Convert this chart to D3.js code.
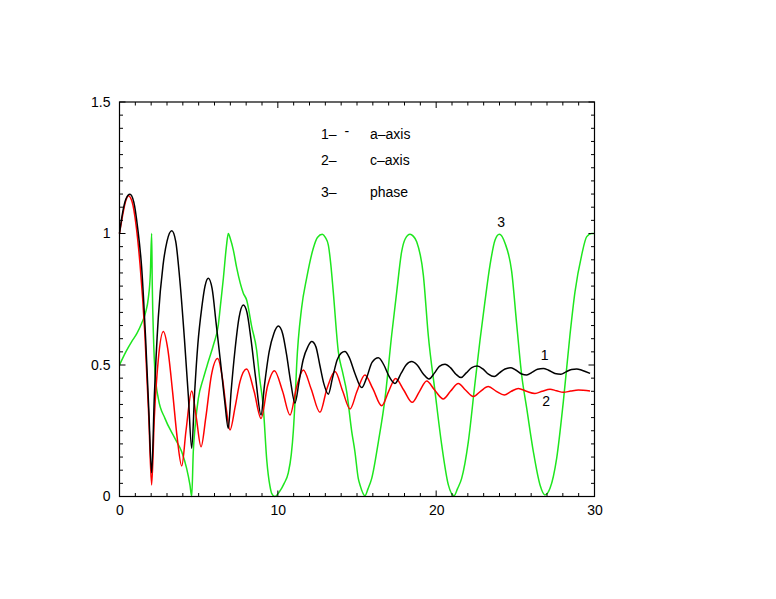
<!DOCTYPE html>
<html><head><meta charset="utf-8">
<script src="https://cdn.jsdelivr.net/npm/d3@7"></script>
<style>body{margin:0;background:#fff}svg{display:block}text{font-family:"Liberation Sans",Arial,sans-serif;font-size:14px;fill:#000}</style>
</head><body><svg id="c" width="776" height="599"></svg>
<script>
const xTicks=[0,10,20,30];
const yTicks=[0,0.5,1,1.5];
const yTickLabels=["0","0.5","1","1.5"];
const aAxis=[[0,1.0],[0.2,1.08],[0.4,1.13],[0.66,1.149],[0.9,1.12],[1.15,1.02],[1.4,0.87],[1.65,0.6],[1.85,0.33],[2.03,0.09],[2.2,0.38],[2.45,0.68],[2.75,0.88],[3.0,0.97],[3.3,1.01],[3.55,0.97],[3.8,0.83],[4.1,0.6],[4.35,0.38],[4.56,0.183],[4.75,0.4],[4.95,0.58],[5.2,0.72],[5.4,0.8],[5.61,0.83],[5.85,0.79],[6.1,0.66],[6.4,0.5],[6.65,0.36],[6.87,0.259],[7.05,0.4],[7.3,0.56],[7.55,0.68],[7.82,0.728],[8.05,0.7],[8.3,0.6],[8.6,0.45],[8.94,0.31],[9.15,0.42],[9.45,0.55],[9.75,0.62],[10.03,0.648],[10.3,0.62],[10.55,0.54],[10.8,0.44],[11.08,0.355],[11.35,0.44],[11.6,0.52],[11.9,0.57],[12.14,0.589],[12.4,0.57],[12.65,0.5],[12.9,0.43],[13.19,0.389],[13.45,0.45],[13.75,0.52],[14.0,0.545],[14.24,0.551],[14.5,0.53],[14.87,0.468],[15.3,0.414],[15.6,0.45],[15.95,0.51],[16.35,0.528],[16.7,0.5],[17.0,0.46],[17.4,0.43],[17.8,0.47],[18.1,0.5],[18.45,0.513],[18.8,0.5],[19.2,0.465],[19.55,0.447],[19.9,0.47],[20.2,0.495],[20.56,0.503],[20.9,0.49],[21.25,0.465],[21.57,0.452],[21.9,0.47],[22.25,0.49],[22.6,0.496],[22.95,0.485],[23.3,0.465],[23.67,0.456],[24.0,0.47],[24.35,0.485],[24.73,0.49],[25.05,0.48],[25.4,0.466],[25.72,0.462],[26.05,0.472],[26.4,0.484],[26.77,0.487],[27.1,0.48],[27.5,0.468],[27.88,0.465],[28.2,0.474],[28.55,0.483],[28.88,0.485],[29.2,0.48],[29.72,0.468]];
const cAxis=[[0,1.0],[0.2,1.07],[0.4,1.125],[0.56,1.144],[0.8,1.12],[1.05,1.03],[1.3,0.88],[1.6,0.62],[1.85,0.3],[2.03,0.044],[2.2,0.3],[2.45,0.52],[2.77,0.627],[3.05,0.56],[3.35,0.4],[3.65,0.22],[3.93,0.116],[4.2,0.25],[4.56,0.401],[4.85,0.3],[5.15,0.189],[5.45,0.3],[5.8,0.46],[6.2,0.525],[6.5,0.45],[6.75,0.33],[6.98,0.253],[7.3,0.34],[7.61,0.437],[8.03,0.485],[8.5,0.4],[8.94,0.297],[9.35,0.42],[9.78,0.478],[10.3,0.4],[10.77,0.31],[11.2,0.42],[11.61,0.481],[12.1,0.41],[12.66,0.32],[13.1,0.41],[13.61,0.475],[14.1,0.4],[14.56,0.333],[15.0,0.4],[15.5,0.462],[16.0,0.41],[16.56,0.345],[17.0,0.4],[17.44,0.449],[17.95,0.405],[18.49,0.358],[18.95,0.4],[19.4,0.439],[19.9,0.405],[20.45,0.371],[20.9,0.4],[21.4,0.43],[21.85,0.405],[22.35,0.38],[22.8,0.4],[23.29,0.418],[23.8,0.4],[24.3,0.386],[24.75,0.4],[25.19,0.411],[25.7,0.4],[26.24,0.392],[26.7,0.4],[27.19,0.408],[27.6,0.402],[28.03,0.396],[28.5,0.401],[28.98,0.405],[29.72,0.401]];
const phase=[[0,0.5],[0.4,0.55],[0.77,0.589],[1.1,0.62],[1.4,0.659],[1.65,0.7],[1.82,0.754],[1.95,0.85],[2.03,1.0],[2.07,0.804],[2.15,0.6],[2.24,0.474],[2.45,0.373],[2.87,0.297],[3.5,0.221],[3.93,0.170],[4.24,0.107],[4.45,0.044],[4.56,0.0],[4.66,0.17],[4.8,0.28],[4.98,0.373],[5.3,0.45],[5.61,0.513],[5.95,0.58],[6.24,0.652],[6.4,0.74],[6.56,0.83],[6.75,0.95],[6.87,1.0],[7.0,0.98],[7.19,0.937],[7.4,0.87],[7.82,0.773],[8.03,0.747],[8.35,0.646],[8.66,0.557],[8.85,0.45],[9.08,0.341],[9.3,0.139],[9.5,0.04],[9.61,0.012],[9.8,0.0],[10.1,0.018],[10.4,0.05],[10.66,0.09],[10.85,0.16],[10.98,0.25],[11.1,0.38],[11.19,0.5],[11.5,0.716],[11.82,0.830],[12.24,0.944],[12.5,0.985],[12.81,0.997],[13.0,0.985],[13.19,0.956],[13.35,0.88],[13.5,0.779],[13.82,0.551],[14.1,0.47],[14.35,0.398],[14.67,0.246],[14.87,0.17],[15.08,0.069],[15.19,0.044],[15.5,0.003],[15.7,0.03],[15.93,0.069],[16.35,0.208],[16.77,0.373],[17.19,0.614],[17.51,0.779],[17.82,0.931],[18.05,0.98],[18.35,0.997],[18.55,0.99],[18.77,0.969],[19.19,0.842],[19.5,0.614],[19.93,0.398],[20.35,0.196],[20.77,0.044],[21.13,0.003],[21.35,0.03],[21.61,0.069],[22.03,0.208],[22.45,0.43],[22.77,0.595],[23.08,0.741],[23.4,0.880],[23.72,0.975],[23.99,0.997],[24.35,0.963],[24.77,0.855],[25.09,0.652],[25.4,0.462],[25.72,0.335],[26.14,0.170],[26.56,0.044],[26.87,0.006],[27.19,0.031],[27.61,0.145],[28.03,0.360],[28.45,0.614],[28.77,0.779],[29.19,0.918],[29.51,0.988],[29.82,1.0],[30,1.0]];
const legendNums=["1–","2–","3–"];
const legendNames=["a–axis","c–axis","phase"];
const curveLabels=[{t:"1",x:26.6,y:0.52},{t:"2",x:26.7,y:0.345},{t:"3",x:23.85,y:1.025}];

const svg=d3.select("#c");
const x=d3.scaleLinear().domain([0,30]).range([119.5,594.5]);
const y=d3.scaleLinear().domain([0,1.5]).range([496.5,102]);

const line=d3.line().x(d=>x(d[0])).y(d=>y(d[1])).curve(d3.curveMonotoneX);
const series=[{d:phase,c:"#1ee61e"},{d:cAxis,c:"#ff0000"},{d:aAxis,c:"#000000"}];
svg.append("g").selectAll("path").data(series).join("path")
  .attr("d",s=>line(s.d)).attr("fill","none").attr("stroke",s=>s.c).attr("stroke-width",1.5).attr("stroke-linejoin","round");

// frame
svg.append("rect").attr("x",x(0)).attr("y",y(1.5)).attr("width",x(30)-x(0)).attr("height",y(0)-y(1.5))
  .attr("fill","none").attr("stroke","#000").attr("stroke-width",1.2);

const xMinor=d3.range(0,31,1), yMinor=d3.range(0,1.501,0.05);
const gt=svg.append("g").attr("stroke","#000").attr("stroke-width",1);
xMinor.forEach(v=>{const maj=xTicks.includes(v);const L=maj?6:3.5;
  gt.append("line").attr("x1",x(v)).attr("x2",x(v)).attr("y1",y(0)).attr("y2",y(0)-L);
  gt.append("line").attr("x1",x(v)).attr("x2",x(v)).attr("y1",y(1.5)).attr("y2",y(1.5)+L);});
yMinor.forEach(v=>{const maj=Math.abs(v*2-Math.round(v*2))<1e-6;const L=maj?6:3.5;
  gt.append("line").attr("y1",y(v)).attr("y2",y(v)).attr("x1",x(0)).attr("x2",x(0)+L);
  gt.append("line").attr("y1",y(v)).attr("y2",y(v)).attr("x1",x(30)).attr("x2",x(30)-L);});

// axes labels via d3 axes (ticks hidden)
const xa=svg.append("g").attr("transform",`translate(0,${y(0)})`)
  .call(d3.axisBottom(x).tickValues(xTicks).tickSize(0).tickPadding(9).tickFormat(d3.format("d")));
const ya=svg.append("g").attr("transform",`translate(${x(0)},0)`)
  .call(d3.axisLeft(y).tickValues(yTicks).tickSize(0).tickPadding(9).tickFormat((d,i)=>yTickLabels[i]));
[xa,ya].forEach(g=>{g.select(".domain").remove();g.selectAll("text").attr("font-family","Liberation Sans, Arial, sans-serif").attr("font-size",14.5).attr("fill","#000");});

// legend
const rows=[138.5,165,197];
legendNums.forEach((t,i)=>{svg.append("text").attr("x",321).attr("y",rows[i]).text(t);
  svg.append("text").attr("x",370).attr("y",rows[i]).text(legendNames[i]);});
svg.append("text").attr("x",344.5).attr("y",136).text("-");

svg.selectAll("text.cl").data(curveLabels).join("text").attr("class","cl")
  .attr("x",d=>x(d.x)).attr("y",d=>y(d.y)).text(d=>d.t);
</script></body></html>
